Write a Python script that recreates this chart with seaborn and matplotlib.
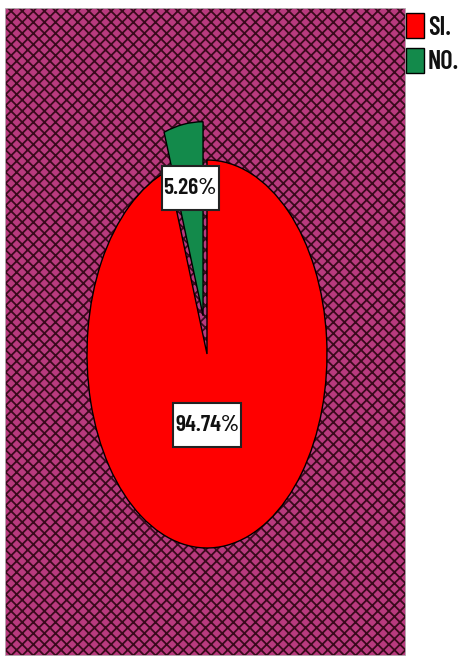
import matplotlib
matplotlib.use("Agg")
import matplotlib.pyplot as plt
import seaborn as sns
from matplotlib.patches import Rectangle
from matplotlib.path import Path

categories = ["SI.", "NO."]
values = [94.74, 5.26]
colors = ["#ff0000", "#138a4b"]
explode = [0.0, 0.2]

sns.set_style("white")
FONT = ['Barlow Condensed', 'DejaVu Sans']
plt.rcParams['font.family'] = FONT
plt.rcParams['hatch.linewidth'] = 1.3

W, H = 461, 656
fig = plt.figure(figsize=(W / 100, H / 100), dpi=100)
fig.patch.set_facecolor("white")

# axes occupying background rect area (px): x 5..406, y 8..656
ax = fig.add_axes([5 / W, 0, (406 - 5) / W, (656 - 8) / H])

bg = Rectangle((0, 0), 1, 1, transform=ax.transAxes, facecolor="#b83a7e",
               edgecolor="#3a0a1c", hatch="xxx", linewidth=0, zorder=0)
ax.add_patch(bg)
frame = Rectangle((0, 0), 1, 1, transform=ax.transAxes, facecolor="none",
                  edgecolor="#bbbbbb", linewidth=1.2, zorder=5)
ax.add_patch(frame)

wedges, _ = ax.pie(values, labels=None, colors=colors, explode=explode,
                   startangle=90, counterclock=False,
                   wedgeprops=dict(edgecolor="black", linewidth=1.0),
                   frame=True)
ax.set_xlim(-202 / 120, 199 / 120)
ax.set_ylim(-302 / 194, 346 / 194)
ax.set_aspect('auto')
ax.set_axis_off()


def tall_box(x0, y0, width, height, mutation_size):
    px = 0.07 * mutation_size
    py = 0.5 * mutation_size
    xa, ya = x0 - px, y0 - py
    xb, yb = x0 + width + px, y0 + height + py
    return Path([(xa, ya), (xb, ya), (xb, yb), (xa, yb), (xa, ya)], closed=True)


label_pos = [(0.0, -0.366), (-0.14, 0.856)]
for v, (x, y) in zip(values, label_pos):
    ax.text(x, y, f"{v:.2f}%", ha="center", va="center", fontsize=17,
            fontweight="semibold", color="#111111", zorder=10,
            bbox=dict(boxstyle=tall_box, facecolor="white",
                      edgecolor="#222222", linewidth=1.5))

leg = fig.legend(wedges, categories, loc="upper left",
                 bbox_to_anchor=(406 / W, 1 - 13 / H), frameon=False,
                 prop=dict(family=FONT, weight="semibold", size=19),
                 handlelength=0.68, handleheight=1.1, handletextpad=0.15,
                 labelspacing=0.3, borderpad=0, borderaxespad=0)
for t in leg.get_texts():
    t.set_color("#111111")

fig.savefig("out.png", dpi=100, facecolor="white")
